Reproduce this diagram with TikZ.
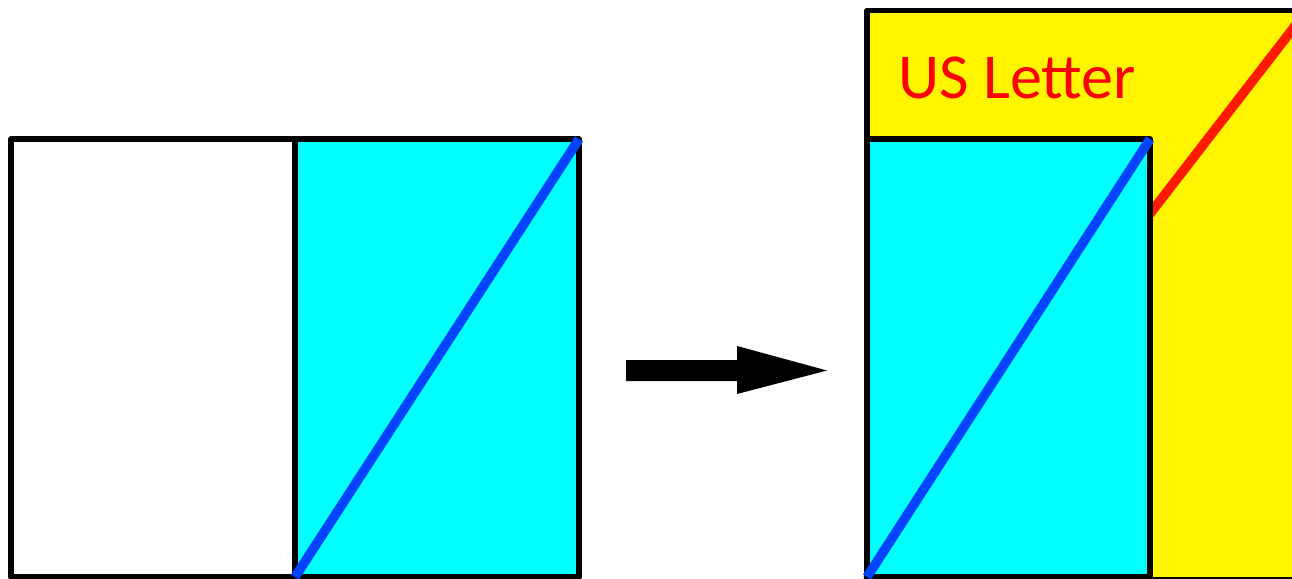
\documentclass[tikz,border=0pt]{standalone}
\usepackage{fontspec}
\setsansfont{Carlito}
\definecolor{cyanfill}{HTML}{00FFFF}
\definecolor{yel}{HTML}{FFF500}
\definecolor{blu}{HTML}{0044FF}
\definecolor{redl}{HTML}{FF1A00}
\definecolor{txtred}{HTML}{FF0000}
\begin{document}
\begin{tikzpicture}[x=1pt,y=-1pt,
  box/.style={draw=black,line width=5.5pt,line join=round},
  diag/.style={line width=9.5pt}]
\useasboundingbox (0,0) rectangle (1292,578);
\clip (0,0) rectangle (1292,578);
% left sheet
\fill[cyanfill] (295,139) rectangle (579,577);
\draw[box] (11,139) rectangle (579,577);
\draw[box] (295,139) -- (295,577);
\draw[blu,diag] (295,577) -- (579,139);
% arrow
\fill[black] (626,360) -- (737,360) -- (737,346) -- (827,370.5) -- (737,394) -- (737,381) -- (626,381) -- cycle;
% right: US Letter
\draw[box,fill=yel] (867,580) rectangle (1307,10.5);
\draw[redl,diag] (867,580) -- (1307,10.5);
\node[anchor=base west,inner sep=0pt,text=txtred,font=\sffamily\fontsize{64}{64}\selectfont] (lbl) at (898,98.3) {US Letter};
\draw[box,fill=cyanfill] (867,139) rectangle (1150,577);
\draw[blu,diag] (867,577) -- (1150,139);
\end{tikzpicture}
\end{document}
